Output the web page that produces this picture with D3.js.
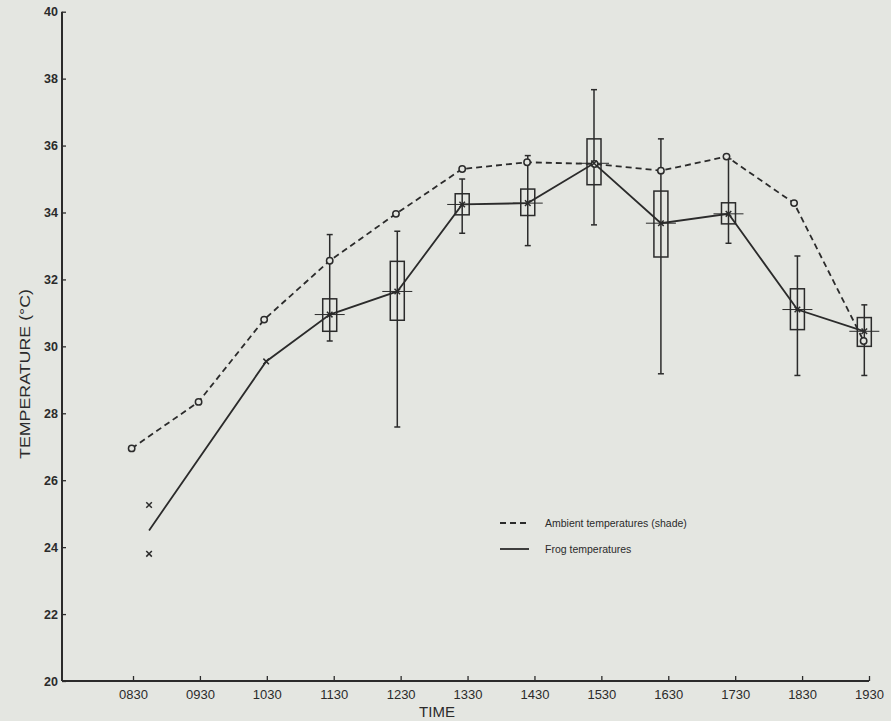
<!DOCTYPE html>
<html>
<head>
<meta charset="utf-8">
<script src="https://cdn.jsdelivr.net/npm/d3@7"></script>
<style>
  body { margin: 0; background: #e4e6e1; }
  svg { display: block; }
</style>
</head>
<body>
<div id="chart"></div>
<script>
// tick positions (decimal hours) and labels
let timeTicks = [8.5, 9.5, 10.5, 11.5, 12.5, 13.5, 14.5, 15.5, 16.5, 17.5, 18.5, 19.5]
let timeLabels = ['0830', '0930', '1030', '1130', '1230', '1330', '1430', '1530', '1630', '1730', '1830', '1930']
let tempTicks = [20, 22, 24, 26, 28, 30, 32, 34, 36, 38, 40]

// ambient temperatures (shade)
let ambientTimes = [8.48, 9.48, 10.46, 11.44, 12.43, 13.42, 14.39, 15.40, 16.39, 17.37, 18.38, 19.42]
let ambientTemps = [26.95, 28.34, 30.8, 32.56, 33.96, 35.3, 35.5, 35.45, 35.25, 35.67, 34.28, 30.16]

// frog temperatures (line through means)
let frogTimes = [8.74, 10.49, 11.44, 12.45, 13.42, 14.40, 15.39, 16.39, 17.40, 18.43, 19.43]
let frogTemps = [24.5, 29.55, 30.95, 31.64, 34.24, 34.28, 35.47, 33.68, 33.96, 31.1, 30.45]

// single frog readings at 0830
let singleTimes = [8.74, 8.74]
let singleTemps = [25.26, 23.8]

// box plots (1130 - 1930)
let boxTimes = [11.44, 12.45, 13.42, 14.40, 15.39, 16.39, 17.40, 18.43, 19.43]
let boxMin = [30.16, 27.59, 33.38, 33.01, 33.63, 29.18, 33.08, 29.13, 29.13]
let boxMax = [33.34, 33.44, 35.0, 35.7, 37.67, 36.2, 35.6, 32.7, 31.24]
let boxLow = [30.45, 30.78, 33.93, 33.91, 34.83, 32.67, 33.66, 30.5, 30.0]
let boxHigh = [31.42, 32.54, 34.56, 34.7, 36.2, 34.64, 34.29, 31.72, 30.86]
let boxMid = [30.95, 31.64, 34.24, 34.28, 35.47, 33.68, 33.96, 31.1, 30.45]

let width = 891,
    height = 721,
    ink = '#2b2b2b',
    axisX = 62

let svg = d3.select('#chart').append('svg')
    .attr('width', width)
    .attr('height', height)

let x = d3.scaleLinear()
    .domain([8.5, 19.5])
    .range([133, 869])

let y = d3.scaleLinear()
    .domain([20, 40])
    .range([681, 11.7])

// axes
let xAxis = g => g
    .attr('transform', `translate(0,${y(20)})`)
    .call(d3.axisBottom(x)
        .tickValues(timeTicks)
        .tickSize(-5)
        .tickPadding(9)
        .tickFormat((d, i) => timeLabels[i]))
    .call(g => g.select('.domain').remove())
    .call(g => g.selectAll('.tick line').attr('stroke', ink).attr('stroke-width', 1.3))
    .call(g => g.selectAll('.tick text')
        .attr('fill', ink)
        .attr('font-family', '"Liberation Sans Narrow", "Liberation Sans", sans-serif')
        .attr('font-size', 13))

let yAxis = g => g
    .attr('transform', `translate(${axisX},0)`)
    .call(d3.axisLeft(y)
        .tickValues(tempTicks)
        .tickSize(-4)
        .tickPadding(4))
    .call(g => g.select('.domain').remove())
    .call(g => g.selectAll('.tick line').attr('stroke', ink).attr('stroke-width', 1.3))
    .call(g => g.selectAll('.tick text')
        .attr('fill', ink)
        .attr('font-family', '"Liberation Sans", sans-serif')
        .attr('font-weight', 'bold')
        .attr('font-size', 12.5))

svg.append('g').call(xAxis)
svg.append('g').call(yAxis)

svg.append('line')
    .attr('x1', axisX).attr('x2', axisX)
    .attr('y1', y(20)).attr('y2', y(40))
    .attr('stroke', ink).attr('stroke-width', 2)

svg.append('line')
    .attr('x1', axisX).attr('x2', x(19.5))
    .attr('y1', y(20)).attr('y2', y(20))
    .attr('stroke', ink).attr('stroke-width', 2)

svg.append('text')
    .attr('x', 437)
    .attr('y', 717)
    .attr('text-anchor', 'middle')
    .attr('fill', ink)
    .attr('font-family', '"Liberation Sans Narrow", "Liberation Sans", sans-serif')
    .attr('font-size', 15)
    .text('TIME')

svg.append('text')
    .attr('transform', 'translate(30,374) rotate(-90)')
    .attr('text-anchor', 'middle')
    .attr('fill', ink)
    .attr('font-family', '"Liberation Sans Narrow", "Liberation Sans", sans-serif')
    .attr('font-size', 15.5)
    .attr('textLength', 170)
    .attr('lengthAdjust', 'spacingAndGlyphs')
    .text('TEMPERATURE (°C)')

// box plots
let boxes = svg.append('g').attr('class', 'boxes')
    .selectAll('g')
    .data(boxTimes.map((t, i) => ({ t: t, min: boxMin[i], max: boxMax[i], lo: boxLow[i], hi: boxHigh[i], mid: boxMid[i] })))
    .enter().append('g')
    .attr('stroke', ink)
    .attr('fill', 'none')

boxes.append('line')
    .attr('x1', d => x(d.t)).attr('x2', d => x(d.t))
    .attr('y1', d => y(d.min)).attr('y2', d => y(d.max))
    .attr('stroke-width', 1.5)

boxes.append('line')
    .attr('x1', d => x(d.t) - 3).attr('x2', d => x(d.t) + 3)
    .attr('y1', d => y(d.min)).attr('y2', d => y(d.min))
    .attr('stroke-width', 1.5)

boxes.append('line')
    .attr('x1', d => x(d.t) - 3).attr('x2', d => x(d.t) + 3)
    .attr('y1', d => y(d.max)).attr('y2', d => y(d.max))
    .attr('stroke-width', 1.5)

boxes.append('rect')
    .attr('x', d => x(d.t) - 7)
    .attr('width', 14)
    .attr('y', d => y(d.hi))
    .attr('height', d => y(d.lo) - y(d.hi))
    .attr('stroke-width', 1.5)

boxes.append('line')
    .attr('x1', d => x(d.t) - 15).attr('x2', d => x(d.t) + 15)
    .attr('y1', d => y(d.mid)).attr('y2', d => y(d.mid))
    .attr('stroke-width', 1)

// ambient dashed line
let line = d3.line()
    .x(d => x(d[0]))
    .y(d => y(d[1]))

svg.append('path')
    .datum(ambientTimes.map((t, i) => [t, ambientTemps[i]]))
    .attr('d', line)
    .attr('fill', 'none')
    .attr('stroke', ink)
    .attr('stroke-width', 1.8)
    .attr('stroke-dasharray', '6,4')

// frog solid line
svg.append('path')
    .datum(frogTimes.map((t, i) => [t, frogTemps[i]]))
    .attr('d', line)
    .attr('fill', 'none')
    .attr('stroke', ink)
    .attr('stroke-width', 1.8)

// ambient circles
svg.append('g')
    .selectAll('circle')
    .data(ambientTimes.map((t, i) => [t, ambientTemps[i]]))
    .enter().append('circle')
    .attr('cx', d => x(d[0]))
    .attr('cy', d => y(d[1]))
    .attr('r', 3.2)
    .attr('fill', '#e4e6e1')
    .attr('stroke', ink)
    .attr('stroke-width', 1.5)

// frog crosses
let crossData = frogTimes.slice(1).map((t, i) => [t, frogTemps[i + 1]])
    .concat(singleTimes.map((t, i) => [t, singleTemps[i]]))

svg.append('g')
    .selectAll('path')
    .data(crossData)
    .enter().append('path')
    .attr('d', d3.symbol(d3.symbolTimes, 22))
    .attr('transform', d => `translate(${x(d[0])},${y(d[1])})`)
    .attr('fill', 'none')
    .attr('stroke', ink)
    .attr('stroke-width', 1.5)

// legend
let legend = svg.append('g')
    .attr('font-family', '"Liberation Sans", sans-serif')
    .attr('font-size', 10.5)
    .attr('fill', ink)

legend.append('line')
    .attr('x1', 500).attr('x2', 529)
    .attr('y1', 523).attr('y2', 523)
    .attr('stroke', ink).attr('stroke-width', 1.8)
    .attr('stroke-dasharray', '6,4')

legend.append('text')
    .attr('x', 545).attr('y', 527)
    .text('Ambient temperatures (shade)')

legend.append('line')
    .attr('x1', 500).attr('x2', 529)
    .attr('y1', 549).attr('y2', 549)
    .attr('stroke', ink).attr('stroke-width', 1.8)

legend.append('text')
    .attr('x', 545).attr('y', 553)
    .text('Frog temperatures')
</script>
</body>
</html>
